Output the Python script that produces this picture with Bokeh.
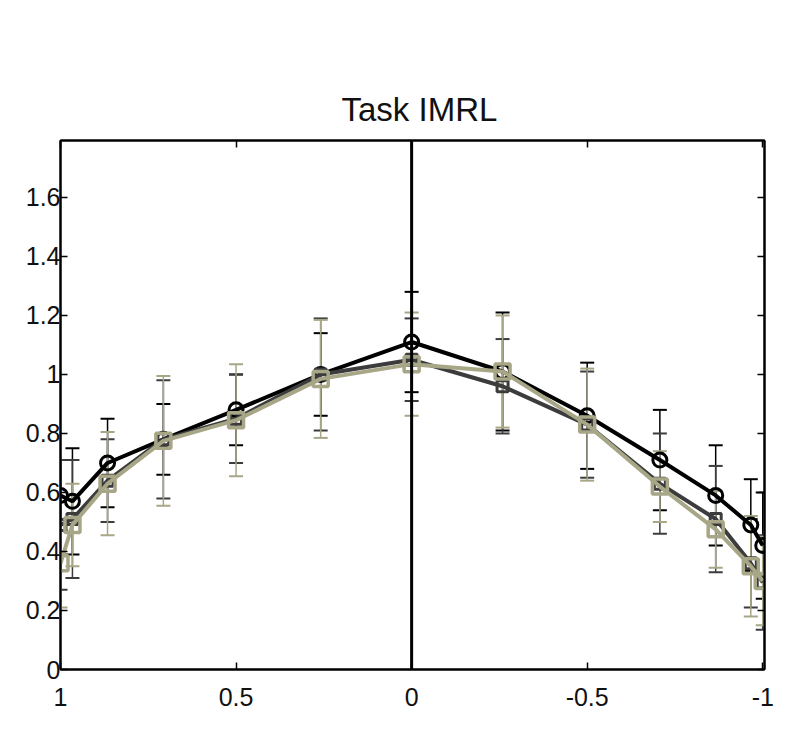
from bokeh.plotting import figure
from bokeh.models import (Range1d, LinearAxis, FixedTicker, Whisker, TeeHead,
                          ColumnDataSource, Span)
from bokeh.embed import file_html
from bokeh.resources import INLINE

# ---- data ----
x_vals = [1.0, 0.966, 0.866, 0.707, 0.5, 0.259, 0.0, -0.259, -0.5, -0.707, -0.866, -0.966, -1.0]

black_y = [0.59, 0.57, 0.70, 0.78, 0.88, 1.00, 1.11, 1.01, 0.86, 0.71, 0.59, 0.49, 0.42]
black_err = [0.12, 0.18, 0.15, 0.12, 0.12, 0.14, 0.17, 0.20, 0.18, 0.17, 0.17, 0.155, 0.18]

dark_y = [0.49, 0.51, 0.64, 0.78, 0.85, 1.00, 1.05, 0.96, 0.83, 0.63, 0.51, 0.36, 0.295]
dark_err = [0.22, 0.20, 0.14, 0.20, 0.15, 0.19, 0.14, 0.16, 0.18, 0.17, 0.18, 0.15, 0.16]

olive_y = [0.36, 0.49, 0.63, 0.775, 0.845, 0.985, 1.035, 1.01, 0.83, 0.62, 0.475, 0.35, 0.30]
olive_err = [0.15, 0.14, 0.175, 0.22, 0.19, 0.20, 0.175, 0.19, 0.19, 0.12, 0.13, 0.17, 0.15]

y_ticks = [0, 0.2, 0.4, 0.6, 0.8, 1.0, 1.2, 1.4, 1.6]
y_tick_labels = ["0", "0.2", "0.4", "0.6", "0.8", "1", "1.2", "1.4", "1.6"]
x_ticks = [1, 0.5, 0, -0.5, -1]
x_tick_labels = ["1", "0.5", "0", "-0.5", "-1"]
zero_line = 0.0
title_text = "Task IMRL"

FONT = "Liberation Sans"
BLACK = "#000000"
DARK = "#3c3c3c"
OLIVE = "#a7a687"

p = figure(width=784, height=716,
           x_range=Range1d(1.0, -1.005), y_range=Range1d(0, 1.793),
           output_backend="svg", toolbar_location=None,
           min_border_left=60, min_border_right=20,
           min_border_top=140, min_border_bottom=47)

p.title.text = title_text
p.title.align = "left"
p.title.offset = 281
p.title.text_font = FONT
p.title.text_font_size = "33px"
p.title.text_font_style = "normal"
p.title.text_color = "#111111"
p.title.standoff = 25

p.xgrid.visible = False
p.ygrid.visible = False
p.outline_line_color = "black"
p.outline_line_width = 2
p.background_fill_color = "white"
p.border_fill_color = "white"

def style_axis(ax, ticks, overrides, show_labels, standoff):
    ax.ticker = FixedTicker(ticks=ticks)
    ax.major_label_overrides = {t: l for t, l in zip(ticks, overrides)}
    ax.minor_tick_line_color = None
    ax.major_tick_in = 7
    ax.major_tick_out = 0
    ax.major_tick_line_color = "black"
    ax.major_tick_line_width = 1.5
    ax.axis_line_color = "black"
    ax.axis_line_width = 2
    ax.major_label_text_font = FONT
    ax.major_label_text_font_size = "25px"
    ax.major_label_text_color = "#111111" if show_labels else None
    ax.major_label_standoff = standoff

style_axis(p.xaxis[0], x_ticks, x_tick_labels, True, 18)
style_axis(p.yaxis[0], y_ticks, y_tick_labels, True, 0)
top_ax = LinearAxis()
right_ax = LinearAxis()
p.add_layout(top_ax, "above")
p.add_layout(right_ax, "right")
style_axis(top_ax, x_ticks, x_tick_labels, False, 0)
style_axis(right_ax, y_ticks, y_tick_labels, False, 0)
top_ax.major_label_text_font_size = "0px"
right_ax.major_label_text_font_size = "0px"

series = [
    (black_y, black_err, BLACK, "circle", 14, 3),
    (dark_y, dark_err, DARK, "square", 11, 3),
    (olive_y, olive_err, OLIVE, "square", 15, 3.5),
]

for ys, errs, col, marker, size, lw in series:
    src = ColumnDataSource(dict(
        x=x_vals, y=ys,
        lower=[v - e for v, e in zip(ys, errs)],
        upper=[v + e for v, e in zip(ys, errs)],
    ))
    w = Whisker(base="x", lower="lower", upper="upper", source=src,
                line_color=col, line_width=1.5,
                upper_head=TeeHead(size=14, line_color=col, line_width=2),
                lower_head=TeeHead(size=14, line_color=col, line_width=2))
    p.add_layout(w)
    p.line("x", "y", source=src, line_color=col, line_width=4)
    p.scatter("x", "y", source=src, marker=marker, size=size,
              line_color=col, line_width=lw, fill_color=None)

p.add_layout(Span(location=zero_line, dimension="height",
                  line_color="black", line_width=3))

open("out.html", "w").write(file_html(p, INLINE))
